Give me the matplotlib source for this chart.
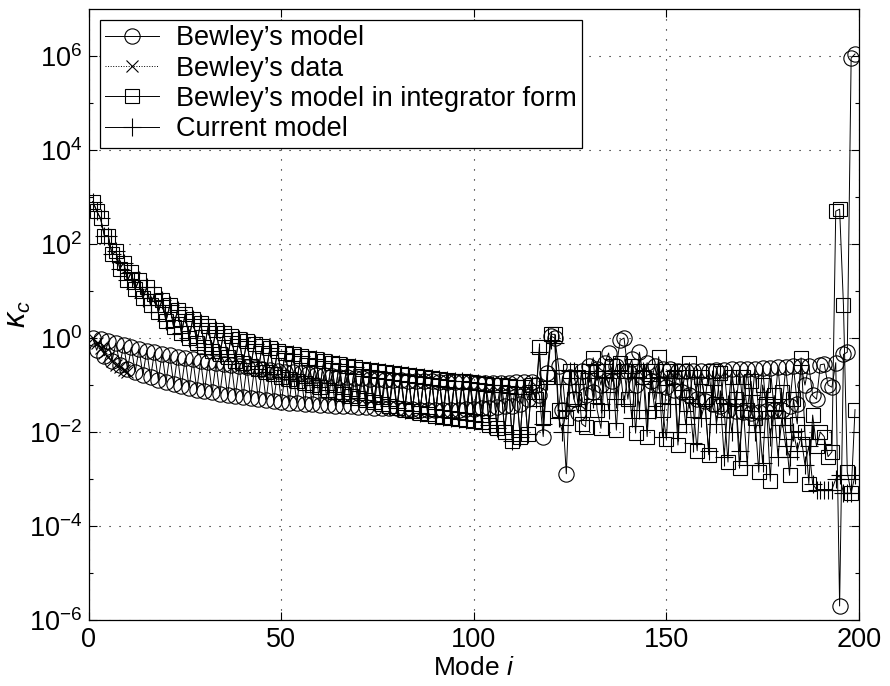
import matplotlib
matplotlib.use("Agg")
import matplotlib.pyplot as plt
import numpy as np

plt.rcParams['font.family'] = ['Liberation Sans', 'DejaVu Sans']
plt.rcParams['mathtext.fontset'] = 'custom'
plt.rcParams['mathtext.rm'] = 'Liberation Sans'
plt.rcParams['mathtext.it'] = 'Liberation Sans:italic'

# kappa_c for modes 1..199
bewley_model = [
    1.0, 0.55, 0.95, 0.42, 0.85, 0.33, 0.78, 0.27, 0.7, 0.22,
    0.63, 0.19, 0.58, 0.165, 0.54, 0.145, 0.5, 0.13, 0.46, 0.115,
    0.43, 0.105, 0.4, 0.095, 0.37, 0.088, 0.35, 0.08, 0.33, 0.075,
    0.31, 0.07, 0.29, 0.065, 0.28, 0.061, 0.27, 0.058, 0.25, 0.055,
    0.24, 0.052, 0.23, 0.05, 0.22, 0.048, 0.21, 0.046, 0.2, 0.044,
    0.19, 0.042, 0.185, 0.041, 0.18, 0.04, 0.17, 0.039, 0.165, 0.038,
    0.16, 0.037, 0.155, 0.036, 0.15, 0.035, 0.145, 0.035, 0.14, 0.034,
    0.138, 0.034, 0.135, 0.033, 0.133, 0.033, 0.13, 0.032, 0.128, 0.032,
    0.126, 0.031, 0.124, 0.031, 0.122, 0.03, 0.12, 0.03, 0.12, 0.03,
    0.118, 0.03, 0.117, 0.03, 0.116, 0.03, 0.115, 0.031, 0.114, 0.031,
    0.113, 0.032, 0.112, 0.033, 0.112, 0.034, 0.112, 0.035, 0.113, 0.036,
    0.114, 0.04, 0.115, 0.05, 0.117, 0.1, 0.06, 0.008, 0.18, 1.1,
    1.0, 0.25, 0.03, 0.0013, 0.15, 0.05, 0.026, 0.2, 0.06, 0.25,
    0.07, 0.22, 0.1, 0.3, 0.48, 0.12, 0.25, 0.9, 1.0, 0.2,
    0.35, 0.1, 0.5, 0.15, 0.3, 0.12, 0.25, 0.1, 0.22, 0.09,
    0.22, 0.08, 0.2, 0.07, 0.2, 0.06, 0.2, 0.05, 0.2, 0.045,
    0.2, 0.04, 0.21, 0.035, 0.21, 0.03, 0.22, 0.028, 0.22, 0.027,
    0.22, 0.026, 0.22, 0.027, 0.23, 0.028, 0.23, 0.03, 0.24, 0.03,
    0.24, 0.035, 0.25, 0.04, 0.25, 0.1, 0.26, 0.06, 0.05, 0.27,
    0.28, 0.1, 0.09, 0.3, 2e-6, 0.45, 0.5, 9e5, 1.1e6,
]

# measured values, first modes only
bewley_data = [1.0, 0.8, 0.6, 0.48, 0.4, 0.33, 0.27, 0.24, 0.21, 0.19]

integrator = [
    800, 500, 350, 150, 150, 60, 70, 30, 40, 17,
    25, 11, 17, 7, 12, 5, 8.5, 3.6, 6.5, 2.3,
    5, 1.7, 4, 1.3, 3.2, 1.0, 2.6, 0.8, 2.1, 0.65,
    1.8, 0.54, 1.5, 0.46, 1.3, 0.39, 1.1, 0.33, 0.95, 0.29,
    0.85, 0.25, 0.75, 0.22, 0.67, 0.19, 0.6, 0.17, 0.54, 0.15,
    0.49, 0.135, 0.45, 0.12, 0.41, 0.11, 0.38, 0.1, 0.35, 0.09,
    0.32, 0.08, 0.3, 0.072, 0.28, 0.065, 0.26, 0.058, 0.24, 0.052,
    0.22, 0.047, 0.21, 0.043, 0.2, 0.039, 0.19, 0.036, 0.18, 0.033,
    0.17, 0.03, 0.16, 0.028, 0.155, 0.026, 0.15, 0.024, 0.14, 0.022,
    0.135, 0.021, 0.13, 0.02, 0.125, 0.019, 0.12, 0.018, 0.115, 0.017,
    0.11, 0.016, 0.105, 0.014, 0.1, 0.012, 0.1, 0.01, 0.095, 0.0065,
    0.09, 0.008, 0.09, 0.009, 0.1, 0.05, 0.65, 0.02, 0.15, 1.2,
    1.2, 0.03, 0.15, 0.02, 0.2, 0.05, 0.15, 0.015, 0.013, 0.2,
    0.38, 0.03, 0.012, 0.2, 0.1, 0.25, 0.011, 0.3, 0.2, 0.05,
    0.25, 0.0095, 0.2, 0.15, 0.008, 0.2, 0.05, 0.4, 0.03, 0.007,
    0.2, 0.15, 0.0053, 0.2, 0.04, 0.3, 0.03, 0.004, 0.15, 0.05,
    0.0033, 0.2, 0.04, 0.18, 0.03, 0.0023, 0.15, 0.05, 0.0017, 0.15,
    0.03, 0.12, 0.02, 0.0014, 0.1, 0.04, 0.0009, 0.06, 0.02, 0.07,
    0.01, 0.0012, 0.05, 0.015, 0.38, 0.01, 0.0008, 0.023, 0.005, 0.01,
    0.008, 0.003, 0.0038, 500, 550, 5, 0.0014, 0.0005, 0.03,
]

# current model: same as integrator form up to mode 115
current_tail = [
    0.05, 0.5, 0.015, 0.12, 0.9,
    0.8, 0.02, 0.01, 0.03, 0.2, 0.2, 0.04, 0.2, 0.03, 0.18,
    0.05, 0.2, 0.04, 0.15, 0.03, 0.2, 0.05, 0.2, 0.04, 0.18,
    0.02, 0.15, 0.03, 0.2, 0.02, 0.12, 0.03, 0.15, 0.008, 0.1,
    0.04, 0.2, 0.01, 0.08, 0.015, 0.05, 0.006, 0.15, 0.02, 0.04,
    0.004, 0.1, 0.015, 0.05, 0.003, 0.04, 0.01, 0.05, 0.004, 0.03,
    0.002, 0.06, 0.01, 0.02, 0.0022, 0.05, 0.008, 0.03, 0.003, 0.02,
    0.005, 0.003, 0.01, 0.004, 0.008, 0.002, 0.005, 0.0008, 0.0006, 0.0006,
    0.0006, 0.0006, 0.0006, 0.001, 0.0012, 0.0005, 0.0005, 0.0005, 0.0012,
]
current = integrator[:115] + current_tail

modes = np.arange(1, len(bewley_model) + 1)
modes_data = np.arange(1, len(bewley_data) + 1)

fig = plt.figure(figsize=(8.9, 6.86), dpi=100)
ax = fig.add_axes([0.1, 0.096, 0.865, 0.891])

lw = 0.7
ax.semilogy(modes, bewley_model, 'k-o', lw=lw, mfc='none', ms=11, mew=0.8,
            label="Bewley\u2019s model")
ax.semilogy(modes_data, bewley_data, 'k:x', lw=lw, ms=8, mew=0.8,
            label="Bewley\u2019s data")
ax.semilogy(modes, integrator, 'k-s', lw=lw, mfc='none', ms=9.5, mew=0.8,
            label="Bewley\u2019s model in integrator form")
ax.semilogy(modes, current, 'k-+', lw=lw, ms=13, mew=0.8,
            label="Current model")

ax.set_xlim(0, 200)
ax.set_ylim(1e-6, 1e7)
ax.set_xticks([0, 50, 100, 150, 200])
ax.set_yticks([1e-6, 1e-4, 1e-2, 1e0, 1e2, 1e4, 1e6])
ax.set_yticks([1e-5, 1e-3, 1e-1, 1e1, 1e3, 1e5], minor=True)
ax.yaxis.set_minor_formatter(matplotlib.ticker.NullFormatter())
ax.tick_params(which='both', direction='in', top=True, right=True,
               labelsize=19.5, width=0.8)
ax.tick_params(which='major', length=6, pad=5)
ax.tick_params(which='minor', length=3)
ax.grid(True, which='major', ls=(0, (1, 8)), color='k', lw=0.8)
for s in ax.spines.values():
    s.set_linewidth(0.9)

ax.set_xlabel('Mode $\\mathit{i}$', fontsize=19, labelpad=2)
ax.set_ylabel('$\\kappa_c$', fontsize=22, labelpad=-3)

leg = ax.legend(loc='upper left', fontsize=19.5, fancybox=False, framealpha=1,
                edgecolor='k', handlelength=2.0, labelspacing=0.16,
                borderaxespad=0.4, borderpad=0.2, handletextpad=0.6)
leg.get_frame().set_linewidth(0.9)

plt.savefig('out.png', dpi=100)
